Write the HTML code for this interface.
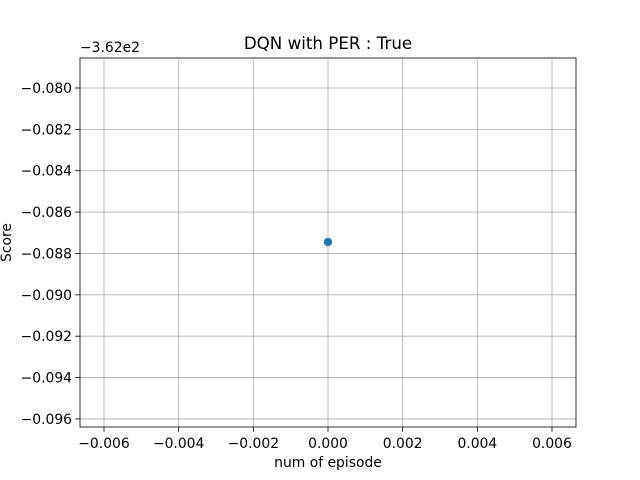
<!DOCTYPE html>
<html><head><meta charset="utf-8"><style>
body{margin:0;background:#fff;}
svg{display:block;font-family:"DejaVu Sans","Liberation Sans",sans-serif;}
</style></head><body>
<svg id="chart" width="640" height="480"></svg>
<script>
const episodes=[0];
const scores=[-362.08745];
const yOffset=-362;
const xTicks=[-0.006,-0.004,-0.002,0,0.002,0.004,0.006];
const xTickLabels=["\u22120.006","\u22120.004","\u22120.002","0.000","0.002","0.004","0.006"];
const yTicks=[-0.080,-0.082,-0.084,-0.086,-0.088,-0.090,-0.092,-0.094,-0.096];
const yTickLabels=["\u22120.080","\u22120.082","\u22120.084","\u22120.086","\u22120.088","\u22120.090","\u22120.092","\u22120.094","\u22120.096"];
const L=80,R=576,T=58,B=427;
const xMin=-0.006643,xMax=0.006643,yMin=-0.09639,yMax=-0.07855;
const sx=v=>L+(v-xMin)/(xMax-xMin)*(R-L);
const sy=v=>B-(v-yMin)/(yMax-yMin)*(B-T);
const svg=document.getElementById('chart');
const NS='http://www.w3.org/2000/svg';
function mk(t,a,txt){const e=document.createElementNS(NS,t);for(const k in a)e.setAttribute(k,a[k]);if(txt!==undefined)e.textContent=txt;svg.appendChild(e);return e;}
xTicks.forEach((v,i)=>{
 const x=sx(v);
 let g=mk('line',{x1:x,x2:x,y1:T,y2:B,stroke:'#b0b0b0','stroke-width':0.8});
 
 
 let t=mk('line',{x1:x,x2:x,y1:B,y2:B+4.9,stroke:'#000','stroke-width':0.8});
 
 
 let l=mk('text',{x:x,y:B+21,'text-anchor':'middle','font-size':13.9},xTickLabels[i]);
 
 
});
yTicks.forEach((v,i)=>{
 const y=sy(v);
 let g=mk('line',{x1:L,x2:R,y1:y,y2:y,stroke:'#b0b0b0','stroke-width':0.8});
 
 
 let t=mk('line',{x1:L-4.9,x2:L,y1:y,y2:y,stroke:'#000','stroke-width':0.8});
 
 
 let l=mk('text',{x:L-8,y:y+5,'text-anchor':'end','font-size':13.9},yTickLabels[i]);
 
 
});
let fr=mk('rect',{x:L,y:T,width:R-L,height:B-T,fill:'none',stroke:'#000','stroke-width':0.8});


episodes.forEach((e,i)=>{
 let c=mk('circle',{cx:sx(e),cy:sy(scores[i]-yOffset),r:4.2,fill:'#1f77b4'});
 
 
});
let off=mk('text',{x:L,y:52,'font-size':13.9},'\u22123.62e2');


let ti=mk('text',{x:(L+R)/2,y:49,'text-anchor':'middle','font-size':16.7},'DQN with PER : True');


let xl=mk('text',{x:(L+R)/2,y:467,'text-anchor':'middle','font-size':13.9},'num of episode');


let yl=mk('text',{x:0,y:0,'text-anchor':'middle','font-size':13.9,transform:'translate(11,'+((T+B)/2)+') rotate(-90)'},'Score');


</script>
</body></html>
